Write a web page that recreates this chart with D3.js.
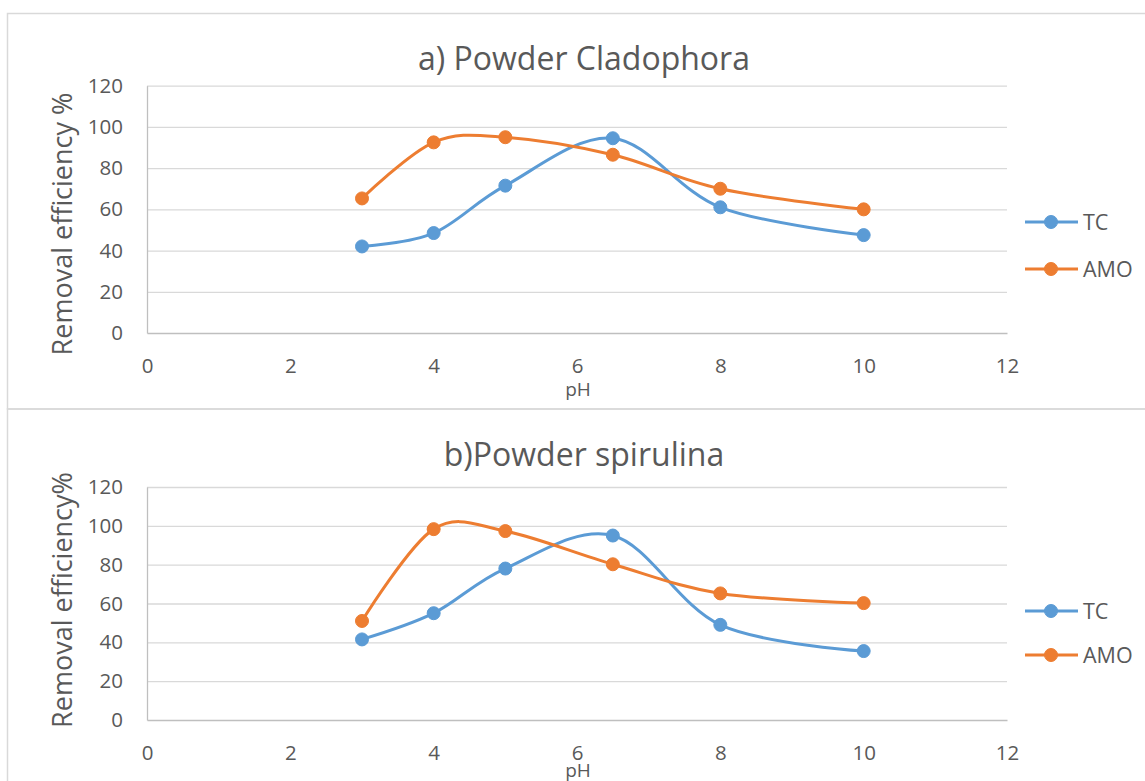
<!DOCTYPE html>
<html>
<head>
<meta charset="utf-8">
<script src="https://cdn.jsdelivr.net/npm/d3@7"></script>
<style>
  html, body { margin: 0; padding: 0; background: #ffffff; }
  svg { display: block; }
  text { font-family: "Open Sans", "Noto Sans", sans-serif; fill: #595959; }
</style>
</head>
<body>
<svg id="chart" width="1145" height="781"></svg>
<script>
// ---------- data ----------
const phValues = [3, 4, 5, 6.5, 8, 10];
const tcCladophora = [42, 48.5, 71.5, 94.5, 61, 47.5];
const amoCladophora = [65.3, 92.5, 95, 86.5, 70, 60];
const tcSpirulina = [41.5, 55, 78, 95, 49, 35.5];
const amoSpirulina = [51, 98.3, 97.3, 80.2, 65.2, 60.2];
const seriesNames = ["TC", "AMO"];
const xTicks = [0, 2, 4, 6, 8, 10, 12];
const yTicks = [0, 20, 40, 60, 80, 100, 120];
const panelTitles = ["a) Powder Cladophora", "b)Powder spirulina"];
const yAxisTitles = ["Removal efficiency %", "Removal efficiency%"];
const xAxisTitle = "pH";

// ---------- styles ----------
const colors = { TC: "#5B9BD5", AMO: "#ED7D31" };
const gridColor = "#D9D9D9";
const axisColor = "#BFBFBF";
const borderColor = "#D9D9D9";

const svg = d3.select("#chart");

// chart frames
svg.append("rect").attr("x", 7.5).attr("y", 13.5).attr("width", 1150).attr("height", 395.5)
  .attr("fill", "none").attr("stroke", borderColor).attr("stroke-width", 1.5);
svg.append("rect").attr("x", 7.5).attr("y", 409).attr("width", 1150).attr("height", 400)
  .attr("fill", "none").attr("stroke", borderColor).attr("stroke-width", 1.5);

const panels = [
  { title: panelTitles[0], yTitle: yAxisTitles[0], tc: tcCladophora, amo: amoCladophora,
    top: 85.7, bottom: 333, titleY: 70, yTitleY: 224, pHY: 396, legendY: [222, 269] },
  { title: panelTitles[1], yTitle: yAxisTitles[1], tc: tcSpirulina, amo: amoSpirulina,
    top: 487, bottom: 720, titleY: 466, yTitleY: 600, pHY: 777, legendY: [611, 655] }
];

const left = 147, right = 1007;

panels.forEach(p => {
  const g = svg.append("g");
  const x = d3.scaleLinear().domain([0, 12]).range([left, right]);
  const y = d3.scaleLinear().domain([0, 120]).range([p.bottom, p.top]);

  // gridlines
  g.append("g")
    .attr("transform", `translate(${left},0)`)
    .call(d3.axisLeft(y).tickValues(yTicks.filter(v => v > 0)).tickSize(-(right - left)).tickFormat(""))
    .call(s => s.select(".domain").remove())
    .call(s => s.selectAll("line").attr("stroke", gridColor).attr("stroke-width", 1.3));

  // y axis
  const ya = g.append("g")
    .attr("transform", `translate(${left},0)`)
    .call(d3.axisLeft(y).tickValues(yTicks).tickSize(0).tickPadding(24));
  ya.select(".domain").attr("stroke", axisColor).attr("stroke-width", 1.3);
  ya.selectAll("text").attr("font-size", 20.5).attr("font-family", "Open Sans").attr("fill", "#595959");

  // x axis
  const xa = g.append("g")
    .attr("transform", `translate(0,${p.bottom})`)
    .call(d3.axisBottom(x).tickValues(xTicks).tickSize(0).tickPadding(25));
  xa.select(".domain").attr("stroke", axisColor).attr("stroke-width", 1.3);
  xa.selectAll("text").attr("font-size", 20.5).attr("font-family", "Open Sans").attr("fill", "#595959");

  // titles
  g.append("text").attr("x", 584).attr("y", p.titleY).attr("text-anchor", "middle")
    .attr("font-size", 32).text(p.title);
  g.append("text").attr("transform", `translate(72,${p.yTitleY}) rotate(-90)`)
    .attr("text-anchor", "middle").attr("font-size", 27).text(p.yTitle);
  g.append("text").attr("x", 578).attr("y", p.pHY).attr("text-anchor", "middle")
    .attr("font-size", 19).text(xAxisTitle);

  // series
  const series = [
    { name: seriesNames[0], values: p.tc },
    { name: seriesNames[1], values: p.amo }
  ];
  const line = d3.line().x(d => x(d[0])).y(d => y(d[1])).curve(d3.curveCardinal.tension(0));
  series.forEach(s => {
    const pts = phValues.map((v, i) => [v, s.values[i]]);
    g.append("path").datum(pts).attr("d", line)
      .attr("fill", "none").attr("stroke", colors[s.name]).attr("stroke-width", 3)
      .attr("stroke-linejoin", "round");
    g.selectAll(null).data(pts).enter().append("circle")
      .attr("cx", d => x(d[0])).attr("cy", d => y(d[1])).attr("r", 6.5)
      .attr("fill", colors[s.name]).attr("stroke", colors[s.name]).attr("stroke-width", 1);
  });

  // legend
  series.forEach((s, i) => {
    const ly = p.legendY[i];
    g.append("line").attr("x1", 1025).attr("x2", 1078).attr("y1", ly).attr("y2", ly)
      .attr("stroke", colors[s.name]).attr("stroke-width", 3);
    g.append("circle").attr("cx", 1051).attr("cy", ly).attr("r", 6.5)
      .attr("fill", colors[s.name]).attr("stroke", colors[s.name]).attr("stroke-width", 1);
    g.append("text").attr("x", 1083).attr("y", ly).attr("dy", "0.35em")
      .attr("font-size", 21.5).text(s.name);
  });
});
</script>
</body>
</html>
